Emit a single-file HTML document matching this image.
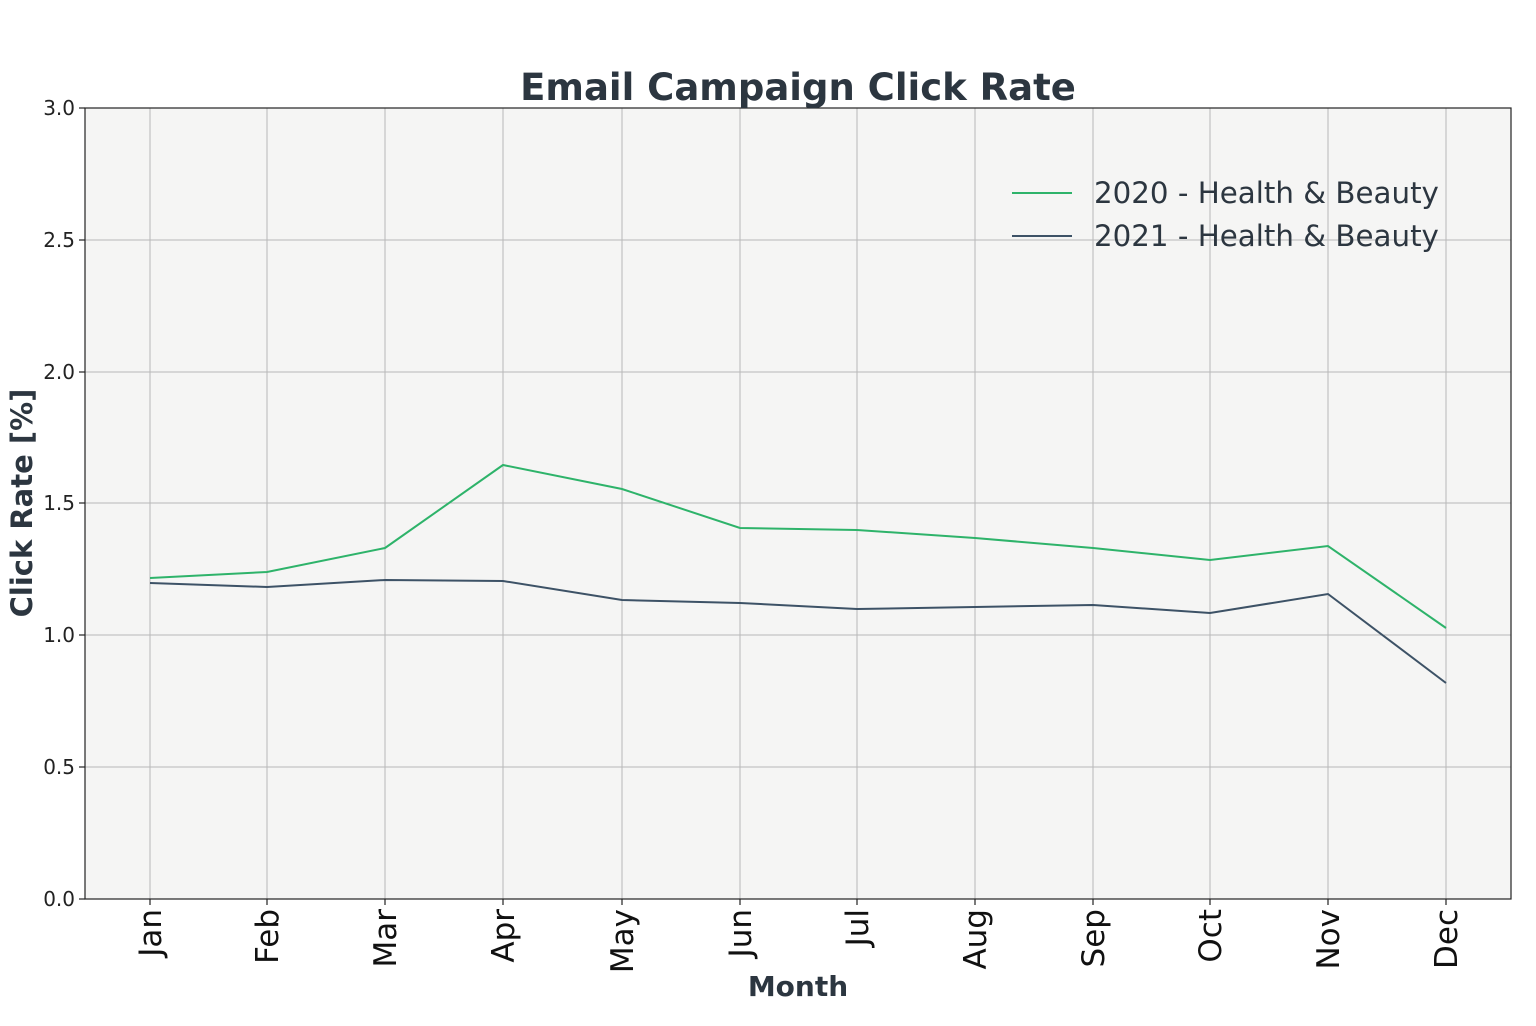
<!DOCTYPE html>
<html><head><meta charset="utf-8"><style>html,body{margin:0;padding:0;background:#fff}svg{display:block}</style></head>
<body>
<svg width="1536" height="1026" viewBox="0 0 1536 1026" xmlns="http://www.w3.org/2000/svg" font-family="DejaVu Sans, Liberation Sans, sans-serif">
<rect x="85" y="108" width="1426" height="791" fill="#f5f5f4"/>
<g stroke="#b8b8b8" stroke-width="1">
<line x1="85" x2="1511" y1="767" y2="767"/><line x1="85" x2="1511" y1="635" y2="635"/><line x1="85" x2="1511" y1="503" y2="503"/><line x1="85" x2="1511" y1="372" y2="372"/><line x1="85" x2="1511" y1="240" y2="240"/>
<line y1="108" y2="899" x1="150" x2="150"/><line y1="108" y2="899" x1="267" x2="267"/><line y1="108" y2="899" x1="385" x2="385"/><line y1="108" y2="899" x1="503" x2="503"/><line y1="108" y2="899" x1="622" x2="622"/><line y1="108" y2="899" x1="740" x2="740"/><line y1="108" y2="899" x1="857" x2="857"/><line y1="108" y2="899" x1="975" x2="975"/><line y1="108" y2="899" x1="1093" x2="1093"/><line y1="108" y2="899" x1="1210" x2="1210"/><line y1="108" y2="899" x1="1328" x2="1328"/><line y1="108" y2="899" x1="1446" x2="1446"/>
</g>
<rect x="85" y="108" width="1426" height="791" fill="none" stroke="#222" stroke-width="1.2"/>
<g stroke="#222" stroke-width="1.2">
<line x1="79" x2="85" y1="899" y2="899"/><line x1="79" x2="85" y1="767" y2="767"/><line x1="79" x2="85" y1="635" y2="635"/><line x1="79" x2="85" y1="503" y2="503"/><line x1="79" x2="85" y1="372" y2="372"/><line x1="79" x2="85" y1="240" y2="240"/><line x1="79" x2="85" y1="108" y2="108"/>
<line y1="899" y2="905" x1="150" x2="150"/><line y1="899" y2="905" x1="267" x2="267"/><line y1="899" y2="905" x1="385" x2="385"/><line y1="899" y2="905" x1="503" x2="503"/><line y1="899" y2="905" x1="622" x2="622"/><line y1="899" y2="905" x1="740" x2="740"/><line y1="899" y2="905" x1="857" x2="857"/><line y1="899" y2="905" x1="975" x2="975"/><line y1="899" y2="905" x1="1093" x2="1093"/><line y1="899" y2="905" x1="1210" x2="1210"/><line y1="899" y2="905" x1="1328" x2="1328"/><line y1="899" y2="905" x1="1446" x2="1446"/>
</g>
<g font-size="20" fill="#222" text-anchor="end">
<text x="75" y="906">0.0</text><text x="75" y="774">0.5</text><text x="75" y="642">1.0</text><text x="75" y="510">1.5</text><text x="75" y="379">2.0</text><text x="75" y="247">2.5</text><text x="75" y="115">3.0</text>
</g>
<g font-size="31" fill="#111" text-anchor="end">
<text transform="translate(161,909) rotate(-90)">Jan</text>
<text transform="translate(278,909) rotate(-90)">Feb</text>
<text transform="translate(396,909) rotate(-90)">Mar</text>
<text transform="translate(514,909) rotate(-90)">Apr</text>
<text transform="translate(633,909) rotate(-90)">May</text>
<text transform="translate(751,909) rotate(-90)">Jun</text>
<text transform="translate(868,909) rotate(-90)">Jul</text>
<text transform="translate(986,909) rotate(-90)">Aug</text>
<text transform="translate(1104,909) rotate(-90)">Sep</text>
<text transform="translate(1221,909) rotate(-90)">Oct</text>
<text transform="translate(1339,909) rotate(-90)">Nov</text>
<text transform="translate(1457,909) rotate(-90)">Dec</text>
</g>
<polyline fill="none" stroke="#2eb36a" stroke-width="2" points="150,578 267,572 385,548 503,465 622,489 740,528 857,530 975,538 1093,548 1210,560 1328,546 1446,628"/>
<polyline fill="none" stroke="#3d5266" stroke-width="2" points="150,583 267,587 385,580 503,581 622,600 740,603 857,609 975,607 1093,605 1210,613 1328,594 1446,683"/>
<line x1="1012" x2="1072" y1="193" y2="193" stroke="#2eb36a" stroke-width="2"/>
<line x1="1012" x2="1072" y1="236" y2="236" stroke="#3d5266" stroke-width="2"/>
<g font-size="29.3" fill="#2c3640">
<text x="1094" y="203">2020 - Health &amp; Beauty</text>
<text x="1094" y="246">2021 - Health &amp; Beauty</text>
</g>
<text x="798" y="100" font-size="37" font-weight="bold" fill="#2c3640" text-anchor="middle">Email Campaign Click Rate</text>
<text x="798" y="996" font-size="28" font-weight="bold" fill="#2c3640" text-anchor="middle">Month</text>
<text transform="translate(32,503) rotate(-90)" font-size="29" font-weight="bold" fill="#2c3640" text-anchor="middle">Click Rate [%]</text>
</svg>
</body></html>
